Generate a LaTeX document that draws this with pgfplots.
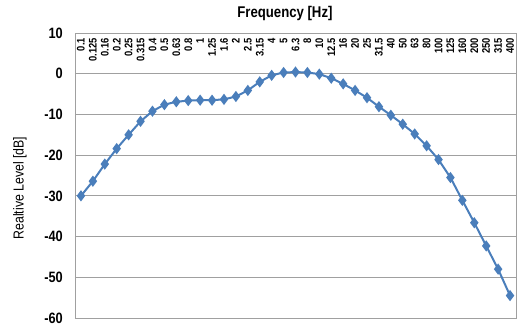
\documentclass[border=0pt]{standalone}
\usepackage{fontspec}
\setmainfont{Liberation Sans}
\newfontfamily\narrowfont{Liberation Sans}[FakeStretch=0.85]
\usepackage{pgfplots}
\pgfplotsset{compat=1.18}
\definecolor{lineblue}{RGB}{74,126,187}
\definecolor{gridgray}{RGB}{160,160,160}
\begin{document}
\begin{tikzpicture}
\begin{axis}[
  scale only axis, width=441pt, height=285pt,
  xmin=-0.5, xmax=36.5, ymin=-60, ymax=10,
  ytick={-60,-50,...,10},
  xtick={0,...,36},
  xticklabels={0.1,0.125,0.16,0.2,0.25,0.315,0.4,0.5,0.63,0.8,1,1.25,1.6,2,2.5,3.15,4,5,6.3,8,10,12.5,16,20,25,31.5,40,50,63,80,100,125,160,200,250,315,400},
  xticklabel pos=right,
  xticklabel style={rotate=90, anchor=east, inner sep=0pt, font=\narrowfont\bfseries\fontsize{11}{11}\selectfont},
  xticklabel shift=-5pt,
  yticklabel style={inner sep=0pt, anchor=east, xshift=-12pt, font=\narrowfont\bfseries\fontsize{15}{15}\selectfont},
  /pgf/number format/assume math mode=true,
  major tick length=0pt,
  ymajorgrids, grid style={gridgray, line width=0.8pt},
  axis line style={gridgray, line width=0.8pt},
  xlabel={Frequency [Hz]},
  xlabel style={at={(axis description cs:0.476,1)}, anchor=south, yshift=9pt, font=\narrowfont\bfseries\fontsize{15.5}{15.5}\selectfont},
  ylabel={Realtive Level [dB]},
  ylabel style={at={(axis description cs:-0.125,0.456)}, anchor=center, font=\narrowfont\fontsize{14.5}{14.5}\selectfont},
  clip=false,
]
\addplot[color=lineblue, line width=2pt, mark=diamond*, mark size=4pt, mark options={solid, fill=lineblue}] coordinates {
(0,-30.0) (1,-26.4) (2,-22.2) (3,-18.4) (4,-15.0) (5,-11.7) (6,-9.2) (7,-7.6) (8,-6.9) (9,-6.6)
(10,-6.5) (11,-6.5) (12,-6.3) (13,-5.6) (14,-4.1) (15,-2.0) (16,-0.4) (17,0.3) (18,0.4) (19,0.3)
(20,-0.1) (21,-1.1) (22,-2.5) (23,-4.1) (24,-5.9) (25,-8.1) (26,-10.2) (27,-12.4) (28,-14.8) (29,-17.7)
(30,-21.1) (31,-25.5) (32,-31.1) (33,-36.6) (34,-42.3) (35,-48.0) (36,-54.5)
};
\end{axis}
\pgfresetboundingbox
\useasboundingbox ([xshift=-75pt,yshift=-7pt]current axis.south west) rectangle ([xshift=6pt,yshift=33pt]current axis.north east);
\end{tikzpicture}
\end{document}
